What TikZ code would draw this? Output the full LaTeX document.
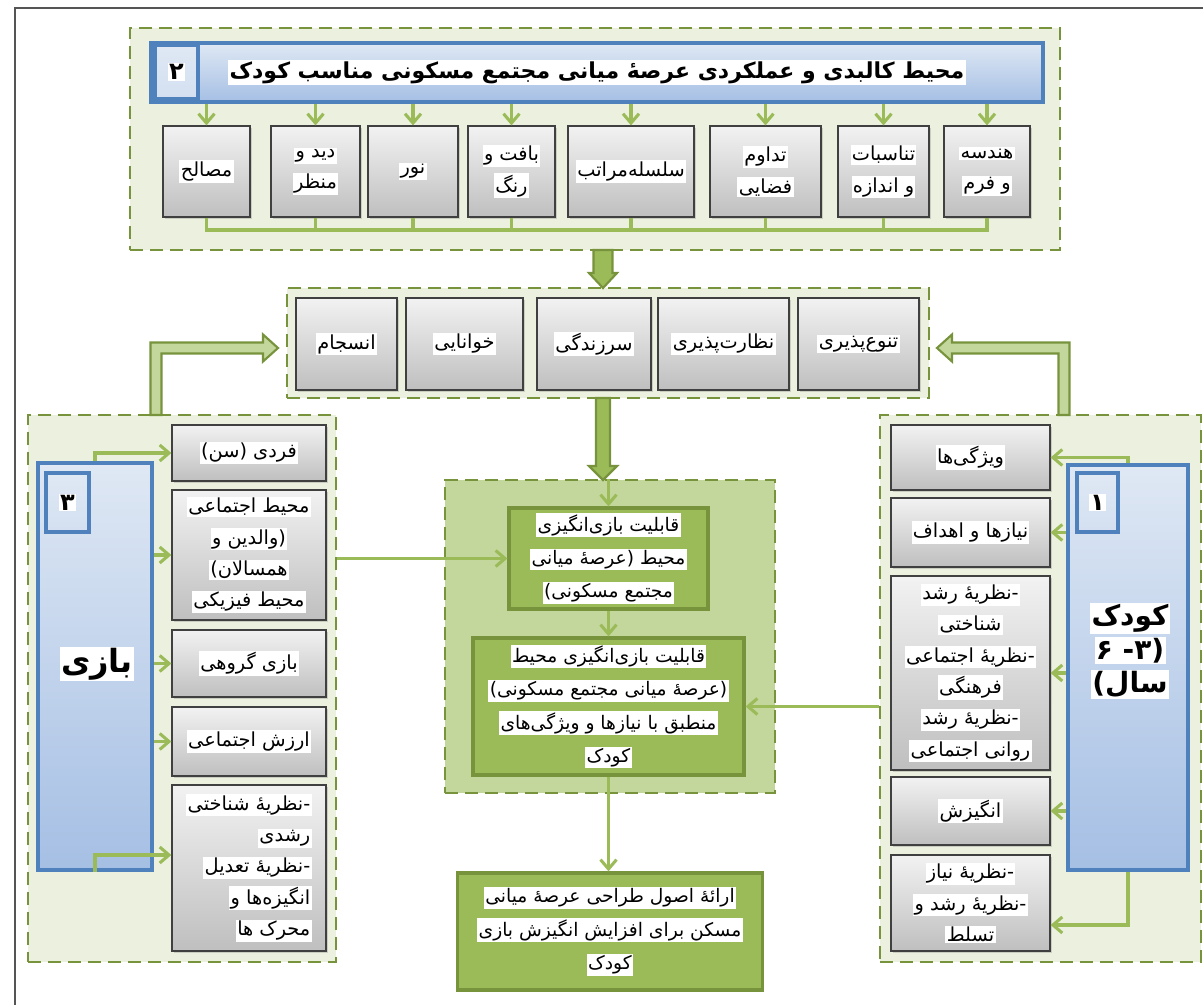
\documentclass[tikz,border=0pt]{standalone}
\usepackage{fontspec}
\newfontfamily\fa[Script=Arabic]{DejaVu Sans}
\TeXXeTstate=1
\usetikzlibrary{arrows.meta,shadows}

\definecolor{grpedge}{HTML}{77933C}
\definecolor{grpfill}{HTML}{EBF1DE}
\definecolor{midfill}{HTML}{C3D69B}
\definecolor{leaf}{HTML}{9BBB59}
\definecolor{blueedge}{HTML}{4F81BD}
\definecolor{bluetop}{HTML}{DFE8F4}
\definecolor{bluebot}{HTML}{A5BFE4}
\definecolor{graytop}{HTML}{F2F2F2}
\definecolor{graybot}{HTML}{BFBFBF}
\definecolor{boxedge}{HTML}{404040}
\definecolor{framegray}{HTML}{555555}

\setlength{\fboxsep}{1pt}
\newcommand{\wline}[1]{\colorbox{white}{\beginR#1\endR}}
\newcommand{\hz}{ه^^^^0654}

\tikzset{every picture/.style={line width=0.75pt}}
\tikzset{
  frame/.style={draw=framegray, line width=1.1pt},
  grp/.style={draw=grpedge, fill=grpfill, line width=2.2pt, dash pattern=on 10pt off 5pt},
  grpdark/.style={grp, fill=midfill},
  gbox/.style={draw=boxedge, line width=0.9pt, top color=graytop, bottom color=graybot,
    drop shadow={opacity=0.3, shadow xshift=1.2pt, shadow yshift=-1.2pt},
    align=center, inner sep=1pt, font=\fa\fontsize{14.5}{23.5}\selectfont},
  bbox/.style={draw=blueedge, line width=3pt, top color=bluetop, bottom color=bluebot, inner sep=1pt,
    drop shadow={opacity=0.25, shadow xshift=1.5pt, shadow yshift=-1.5pt}},
  numbox/.style={draw=blueedge, line width=3pt, top color=bluetop, bottom color=bluetop!80!bluebot,
    inner sep=1pt, font=\fa\bfseries\fontsize{18}{20}\selectfont},
  leafbox/.style={draw=grpedge, line width=2.5pt, fill=leaf, align=center, inner sep=1pt,
    font=\fa\fontsize{14}{25}\selectfont},
  blockarrow/.style={draw=grpedge, line width=1.6pt, fill=midfill},
  blockdark/.style={draw=grpedge, line width=1.6pt, fill=leaf},
  arr/.style={draw=leaf, line width=2.3pt, -{Straight Barb[length=7pt,width=12pt]}},
  link/.style={draw=leaf, line width=2.3pt}
}

\begin{document}
\begin{tikzpicture}[x=0.75pt,y=0.75pt,yscale=-1,xscale=1]
\useasboundingbox (0,0) rectangle (1203,1005);
\draw[frame] (15,1005) -- (15,8) -- (1203,8);

% group backgrounds
\node[grp, minimum width=697.5pt, minimum height=166.5pt] (grpTop) at (595,139) {};
\node[grp, minimum width=481.5pt, minimum height=82.5pt] (grpMid) at (608,343) {};
\node[grpdark, minimum width=247.5pt, minimum height=234.75pt] (grpC) at (610,636.5) {};
\node[grp, minimum width=231pt, minimum height=410.25pt] (grpL) at (182,688.5) {};
\node[grp, minimum width=240.75pt, minimum height=410.25pt] (grpR) at (1040.5,688.5) {};

% block arrows between groups
\draw[blockdark] (593.5,250) -- (612.5,250) -- (612.5,273) -- (617,273) -- (603,288) -- (589,273) -- (593.5,273) -- cycle;
\draw[blockdark] (596,398) -- (610,398) -- (610,466) -- (617,466) -- (603,480) -- (589,466) -- (596,466) -- cycle;
\draw[blockarrow] (150.5,415) -- (150.5,342.5) -- (263,342.5) -- (263,334.5) -- (278,348) -- (263,361.5) -- (263,353.5) -- (161.5,353.5) -- (161.5,415) -- cycle;
\draw[blockarrow] (1069.5,415) -- (1069.5,342.5) -- (952,342.5) -- (952,334.5) -- (937,348) -- (952,361.5) -- (952,353.5) -- (1058.5,353.5) -- (1058.5,415) -- cycle;

% 2: physical environment
\node[bbox, minimum width=669pt, minimum height=44.25pt, font=\fa\bfseries\fontsize{16.5}{20}\selectfont] (title) at (597,72.5)
  {\wline{محیط کالبدی و عملکردی عرص\hz{} میانی مجتمع مسکونی مناسب کودک}};
\node[numbox, minimum width=32.25pt, minimum height=40.5pt] (num2) at (176.5,72) {\wline{۲}};

\node[gbox, minimum width=65.25pt, minimum height=68.25pt] (mat) at (206.5,171.5) {\wline{مصالح}};
\node[gbox, minimum width=66.75pt, minimum height=68.25pt] (view) at (315.5,171.5) {\wline{دید و}\\\wline{منظر}};
\node[gbox, minimum width=67.5pt, minimum height=68.25pt] (light) at (413,171.5) {\wline{نور}};
\node[gbox, minimum width=65.25pt, minimum height=68.25pt] (tex) at (511.5,171.5) {\wline{بافت و}\\\wline{رنگ}};
\node[gbox, minimum width=94.5pt, minimum height=68.25pt] (hier) at (631,171.5) {\wline{سلسله^^^^200cمراتب}};
\node[gbox, minimum width=83.25pt, minimum height=68.25pt] (cont) at (765.5,171.5) {\wline{تداوم}\\\wline{فضایی}};
\node[gbox, minimum width=68.25pt, minimum height=68.25pt] (prop) at (883.5,171.5) {\wline{تناسبات}\\\wline{و اندازه}};
\node[gbox, minimum width=64.5pt, minimum height=68.25pt] (geom) at (987,171.5) {\wline{هندسه}\\\wline{و فرم}};

\coordinate (bus) at (0,230);
\foreach \b in {mat,view,light,tex,hier,cont,prop,geom}{
  \draw[arr] (title.south -| \b.north) -- (\b.north);
  \draw[link] (\b.south) -- (\b.south |- bus);
}
\draw[link, line cap=rect] (mat.south |- bus) -- (geom.south |- bus);

% qualities
\node[gbox, minimum width=75.75pt, minimum height=69pt] (coh) at (346.5,344) {\wline{انسجام}};
\node[gbox, minimum width=87.75pt, minimum height=69pt] (leg) at (464.5,344) {\wline{خوانایی}};
\node[gbox, minimum width=85.5pt, minimum height=69pt] (viv) at (594,344) {\wline{سرزندگی}};
\node[gbox, minimum width=98.25pt, minimum height=69pt] (sur) at (723.5,344) {\wline{نظارت^^^^200cپذیری}};
\node[gbox, minimum width=90.75pt, minimum height=69pt] (div) at (858.5,344) {\wline{تنوع^^^^200cپذیری}};

% 3: play
\node[bbox, minimum width=85.5pt, minimum height=305.25pt] (playbox) at (95,666.5) {};
\node[numbox, minimum width=32.25pt, minimum height=44.25pt] (num3) at (67.5,502.5) {\wline{۳}};
\node[font=\fa\bfseries\fontsize{24}{26}\selectfont, inner sep=0pt] (playlabel) at (97,664) {\wline{بازی}};

\node[gbox, minimum width=115.5pt, minimum height=42pt] (L1) at (249,453) {\wline{فردی (سن)}};
\node[gbox, minimum width=115.5pt, minimum height=97.5pt] (L2) at (249,555)
  {\wline{محیط اجتماعی}\\\wline{(والدین و}\\\wline{همسالان)}\\\wline{محیط فیزیکی}};
\node[gbox, minimum width=115.5pt, minimum height=50.25pt] (L3) at (249,663.5) {\wline{بازی گروهی}};
\node[gbox, minimum width=115.5pt, minimum height=51.75pt] (L4) at (249,741.5) {\wline{ارزش اجتماعی}};
\node[gbox, minimum width=115.5pt, minimum height=124.5pt, align=right] (L5) at (249,868)
  {\wline{-نظری\hz{} شناختی}\\\wline{رشدی}\\\wline{-نظری\hz{} تعدیل}\\\wline{انگیزه^^^^200cها و}\\\wline{محرک ها}};

\draw[arr] (playbox.north) |- (L1.west);
\foreach \n in {L2,L3,L4}{
  \draw[arr] (playbox.east |- \n.west) -- (\n.west);
}
\draw[arr] (playbox.south) |- ([yshift=-9.75pt]L5.west);

% 1: child
\node[bbox, minimum width=90pt, minimum height=303.75pt] (kidbox) at (1128,667.5) {};
\node[numbox, minimum width=30.75pt, minimum height=44.25pt] (num1) at (1097.5,502.5) {\wline{۱}};
\node[font=\fa\bfseries\fontsize{21}{25}\selectfont, align=center, inner sep=0pt] (kidlabel) at (1130,651)
  {\wline{کودک}\\\wline{(۳- ۶}\\\wline{سال)}};

\node[gbox, minimum width=119.25pt, minimum height=48.75pt] (R1) at (970.5,457.5) {\wline{ویژگی^^^^200cها}};
\node[gbox, minimum width=119.25pt, minimum height=51.75pt] (R2) at (970.5,532.5) {\wline{نیازها و اهداف}};
\node[gbox, minimum width=119.25pt, minimum height=145.5pt] (R3) at (970.5,673)
  {\wline{-نظری\hz{} رشد}\\\wline{شناختی}\\\wline{-نظری\hz{} اجتماعی}\\\wline{فرهنگی}\\\wline{-نظری\hz{} رشد}\\\wline{روانی اجتماعی}};
\node[gbox, minimum width=119.25pt, minimum height=51pt] (R4) at (970.5,811) {\wline{انگیزش}};
\node[gbox, minimum width=119.25pt, minimum height=72pt] (R5) at (970.5,903)
  {\wline{-نظری\hz{} نیاز}\\\wline{-نظری\hz{} رشد و}\\\wline{تسلط}};

\draw[arr] (kidbox.north) |- (R1.east);
\foreach \n in {R2,R3,R4}{
  \draw[arr] (kidbox.west |- \n.east) -- (\n.east);
}
\draw[arr] (kidbox.south) |- ([yshift=16.5pt]R5.east);

% play potential
\node[leafbox, minimum width=149.25pt, minimum height=75.75pt] (pot) at (608.5,558.5)
  {\wline{قابلیت بازی^^^^200cانگیزی}\\\wline{محیط (عرص\hz{} میانی}\\\wline{مجتمع مسکونی)}};
\node[leafbox, minimum width=203.25pt, minimum height=102.75pt] (fit) at (608.5,706.5)
  {\wline{قابلیت بازی^^^^200cانگیزی محیط}\\\wline{(عرص\hz{} میانی مجتمع مسکونی)}\\\wline{منطبق با نیازها و ویژگی^^^^200cهای}\\\wline{کودک}};
\node[leafbox, minimum width=228.75pt, minimum height=87.75pt] (goal) at (610,931.5)
  {\wline{ارائ\hz{} اصول طراحی عرص\hz{} میانی}\\\wline{مسکن برای افزایش انگیزش بازی}\\\wline{کودک}};

\draw[arr] (pot.north |- grpC.north) -- (pot.north);
\draw[arr] (pot.south) -- (fit.north);
\draw[arr] (fit.south) -- (fit.south |- goal.north);
\draw[arr] (grpL.east |- pot.west) -- (pot.west);
\draw[arr] (grpR.west |- fit.east) -- (fit.east);

\end{tikzpicture}
\end{document}
